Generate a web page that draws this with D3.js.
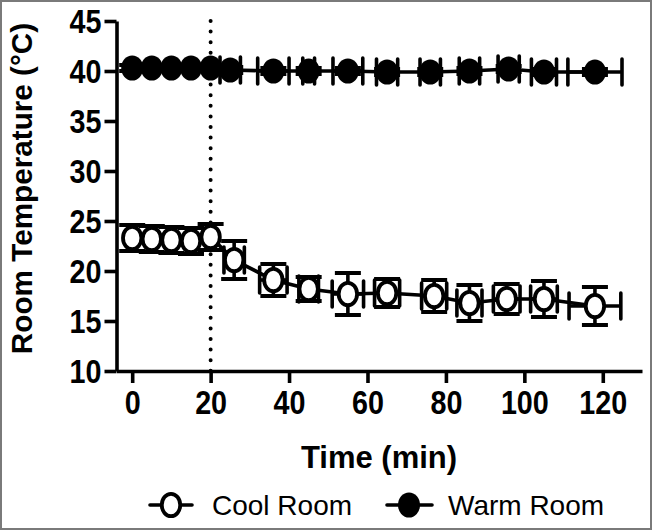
<!DOCTYPE html>
<html><head><meta charset="utf-8">
<script src="https://cdn.jsdelivr.net/npm/d3@7"></script>
<style>body{margin:0;background:#fff}svg{display:block}</style>
</head><body><svg id="c" width="653" height="531"></svg>
<script>
// ---- data ----
const xTicks = [0, 20, 40, 60, 80, 100, 120];
const yTicks = [10, 15, 20, 25, 30, 35, 40, 45];
const coolTime    = [0, 5, 10, 15, 20, 26, 36, 45, 55, 65, 77, 86, 95.5, 105, 118];
const coolTemp    = [23.3, 23.2, 23.1, 23.0, 23.4, 21.1, 19.1, 18.2, 17.7, 17.8, 17.5, 16.8, 17.2, 17.2, 16.5];
const coolTempErr = [1.3, 1.3, 1.3, 1.3, 1.3, 1.9, 1.6, 1.2, 2.1, 1.4, 1.6, 1.8, 1.5, 1.8, 1.9];
const coolTimeErr = [0, 0, 0, 0, 0, 2.6, 3.5, 2.5, 4.0, 3.2, 3.2, 3.2, 3.4, 3.4, 6.6];
const warmTime    = [0, 5, 10, 15, 20, 25, 36, 45, 55, 65, 76, 86, 96, 105, 118];
const warmTemp    = [40.3, 40.3, 40.3, 40.3, 40.3, 40.1, 40.0, 40.0, 40.0, 39.9, 39.9, 40.0, 40.2, 39.9, 39.9];
const warmTempErr = [0.3, 0.3, 0.3, 0.3, 0.3, 0.3, 0.3, 0.3, 0.3, 0.3, 0.3, 0.3, 0.3, 0.3, 0.3];
const warmTimeErr = [0, 0, 0, 0, 0, 2.6, 4.0, 1.5, 3.8, 2.7, 2.6, 2.6, 2.7, 3.2, 6.9];
const seriesNames = ["Cool Room", "Warm Room"];
const xTitle = "Time (min)";
const yTitle = "Room Temperature (°C)";
const vLineAt = 20;

// ---- chart ----
const svg = d3.select("#c");
const FONT = "'Liberation Sans', Arial, sans-serif";
const x = d3.scaleLinear().domain([-4, 130]).range([116.5, 642]);
const y = d3.scaleLinear().domain([10, 45]).range([371, 21]);
const SW = 3.6, CAP = 13, TSX = 0.87;

svg.append("rect").attr("x", 1).attr("y", 1).attr("width", 650).attr("height", 528)
  .attr("fill", "#fff").attr("stroke", "#7a7a7a").attr("stroke-width", 2);

// dotted line
svg.append("line").attr("x1", x(vLineAt)).attr("x2", x(vLineAt))
  .attr("y1", y(45)).attr("y2", y(10))
  .attr("stroke", "#000").attr("stroke-width", 4)
  .attr("stroke-dasharray", "0 10.6").attr("stroke-linecap", "round");

// axes
const gx = svg.append("g").attr("transform", `translate(0,${y(10)})`)
  .call(d3.axisBottom(x).tickValues(xTicks).tickSizeInner(12).tickSizeOuter(0));
const gy = svg.append("g").attr("transform", `translate(${x(-4)},0)`)
  .call(d3.axisLeft(y).tickValues(yTicks).tickSizeInner(12).tickSizeOuter(0));
[gx, gy].forEach(g => {
  g.select(".domain").attr("stroke", "#000").attr("stroke-width", SW);
  g.selectAll(".tick line").attr("stroke", "#000").attr("stroke-width", SW);
  g.selectAll(".tick text").attr("fill", "#000").attr("font-family", FONT)
    .attr("font-weight", "bold").attr("font-size", 33);
});
gx.selectAll(".tick text").attr("y", 43).attr("dy", 0).attr("transform", `scale(${TSX},1)`);
gy.selectAll(".tick text").attr("x", -15 / TSX).attr("dy", "0.36em").attr("transform", `scale(${TSX},1)`);

// titles
svg.append("text").attr("x", 379).attr("y", 468).attr("text-anchor", "middle")
  .attr("font-family", FONT).attr("font-weight", "bold").attr("font-size", 31).text(xTitle);
svg.append("text").attr("transform", "translate(31.5,188.5) rotate(-90)").attr("text-anchor", "middle")
  .attr("font-family", FONT).attr("font-weight", "bold").attr("font-size", 29.7).text(yTitle);

function drawSeries(times, temps, tErr, xErr, filled) {
  const pts = times.map((t, i) => ({t, v: temps[i], e: tErr[i], xe: xErr[i]}));
  const g = svg.append("g").attr("stroke", "#000").attr("stroke-width", SW).attr("fill", "none");
  g.append("path").attr("d", d3.line().x(d => x(d.t)).y(d => y(d.v))(pts));
  pts.forEach(d => {
    const cx = x(d.t), cy = y(d.v);
    if (d.e > 0) {
      const y1 = y(d.v + d.e), y2 = y(d.v - d.e);
      g.append("line").attr("x1", cx).attr("x2", cx).attr("y1", y1).attr("y2", y2);
      g.append("line").attr("x1", cx - CAP).attr("x2", cx + CAP).attr("y1", y1).attr("y2", y1).attr("stroke-width", 4);
      g.append("line").attr("x1", cx - CAP).attr("x2", cx + CAP).attr("y1", y2).attr("y2", y2).attr("stroke-width", 4);
    }
    if (d.xe > 0) {
      const x1 = x(d.t - d.xe), x2 = x(d.t + d.xe);
      g.append("line").attr("x1", x1).attr("x2", x2).attr("y1", cy).attr("y2", cy);
      g.append("line").attr("x1", x1).attr("x2", x1).attr("y1", cy - CAP).attr("y2", cy + CAP).attr("stroke-linecap", "round");
      g.append("line").attr("x1", x2).attr("x2", x2).attr("y1", cy - CAP).attr("y2", cy + CAP).attr("stroke-linecap", "round");
    }
  });
  pts.forEach(d => marker(g, x(d.t), y(d.v), filled));
}
function marker(g, cx, cy, filled) {
  if (filled) g.append("ellipse").attr("cx", cx).attr("cy", cy).attr("rx", 11).attr("ry", 12.6)
      .attr("fill", "#000").attr("stroke", "none");
  else g.append("ellipse").attr("cx", cx).attr("cy", cy).attr("rx", 9.2).attr("ry", 11.2)
      .attr("fill", "#fff").attr("stroke", "#000").attr("stroke-width", 3.8);
}
drawSeries(coolTime, coolTemp, coolTempErr, coolTimeErr, false);
drawSeries(warmTime, warmTemp, warmTempErr, warmTimeErr, true);

// legend
const lg = svg.append("g").attr("stroke", "#000").attr("stroke-width", SW);
const legendItems = [
  {name: seriesNames[0], lx1: 150, lx2: 192, mx: 171, tx: 212, filled: false},
  {name: seriesNames[1], lx1: 387, lx2: 432, mx: 409, tx: 448, filled: true}
];
legendItems.forEach(it => {
  lg.append("line").attr("x1", it.lx1).attr("x2", it.lx2).attr("y1", 505).attr("y2", 505).attr("stroke-linecap", "round");
  marker(lg, it.mx, 505, it.filled);
  svg.append("text").attr("x", it.tx).attr("y", 515).attr("font-family", FONT)
    .attr("font-size", 28).attr("fill", "#000").text(it.name);
});
</script></body></html>
